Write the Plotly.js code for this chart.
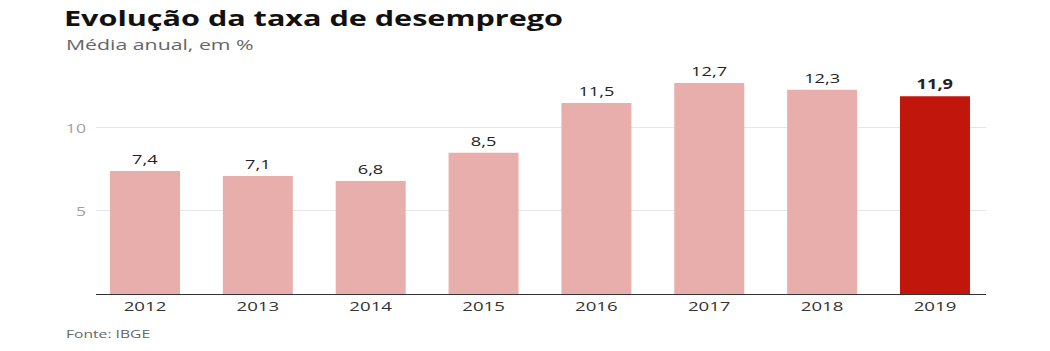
<!DOCTYPE html>
<html>
<head>
<meta charset="utf-8">
<script src="https://cdn.plot.ly/plotly-3.0.1.min.js"></script>
<style>html,body{margin:0;padding:0;background:#fff;}#chart{width:1050px;height:351px;}</style>
</head>
<body>
<div id="chart"></div>
<script>
const years = ['2012','2013','2014','2015','2016','2017','2018','2019'];
const rates = [7.4, 7.1, 6.8, 8.5, 11.5, 12.7, 12.3, 11.9];
const yTicks = [5, 10];
const highlightYear = '2019';

const lightColor = '#e8aeab';
const darkColor = '#c0160b';
const colors = years.map(y => y === highlightYear ? darkColor : lightColor);
const labels = rates.map((v, i) => {
  const s = v.toFixed(1).replace('.', ',');
  return years[i] === highlightYear ? '<b>' + s + '</b>' : s;
});

const trace = {
  type: 'bar',
  x: years,
  y: rates,
  marker: {color: colors},
  text: labels,
  textposition: 'outside',
  cliponaxis: false,
  textfont: {family: 'Open Sans', size: 13.5, color: '#222'},
  hoverinfo: 'none'
};

const layout = {
  width: 1050, height: 351,
  margin: {l: 96, r: 64, t: 61, b: 57},
  paper_bgcolor: '#fff', plot_bgcolor: '#fff',
  bargap: 0.38,
  showlegend: false,
  font: {family: 'Open Sans', color: '#333'},
  title: {
    text: '<b>Evolução da taxa de desemprego</b>',
    font: {family: 'Open Sans', size: 22, color: '#111'},
    xref: 'container', yref: 'container',
    x: 64/1050, xanchor: 'left',
    y: 1 - 18/351, yanchor: 'middle'
  },
  xaxis: {
    type: 'category',
    range: [-0.434, 7.452],
    showgrid: false,
    showline: true, linecolor: '#333', linewidth: 1,
    ticks: '',
    tickfont: {family: 'Open Sans', size: 13.5, color: '#333'},
    fixedrange: true
  },
  yaxis: {
    range: [0, 14.03],
    tickvals: yTicks,
    ticktext: yTicks.map(String),
    showgrid: true, gridcolor: '#e6e6e6', gridwidth: 1,
    zeroline: false, showline: false,
    ticks: '', ticklabelstandoff: 9,
    tickfont: {family: 'Open Sans', size: 13.5, color: '#a0a0a0'},
    fixedrange: true
  },
  annotations: [
    {
      text: 'Média anual, em %',
      xref: 'paper', yref: 'paper',
      x: (64 - 96) / 890, xanchor: 'left', align: 'left',
      y: 1 + (61 - 44) / 233, yanchor: 'middle',
      showarrow: false,
      font: {family: 'Open Sans', size: 14, color: '#666'}
    },
    {
      text: 'Fonte: IBGE',
      xref: 'paper', yref: 'paper',
      x: (64 - 96) / 890, xanchor: 'left', align: 'left',
      y: -(333 - 294) / 233, yanchor: 'middle',
      showarrow: false,
      font: {family: 'Open Sans', size: 11.5, color: '#666'}
    }
  ]
};

// The reference lettering is noticeably wider than Open Sans; widen each text horizontally around a fixed point.
function widenEl(t, s, mode) {
  const bb = t.getBBox();
  const a = mode || t.getAttribute('text-anchor') || 'start';
  const x0 = a === 'middle' ? bb.x + bb.width / 2 : (a === 'end' ? bb.x + bb.width : bb.x);
  const prev = t.getAttribute('transform') || '';
  t.setAttribute('transform', prev + ' translate(' + x0 + ',0) scale(' + s + ',1) translate(' + (-x0) + ',0)');
}
function widen(selector, s, mode) {
  document.querySelectorAll(selector).forEach(t => widenEl(t, s, mode));
}

Plotly.newPlot('chart', [trace], layout, {displayModeBar: false, staticPlot: true}).then(() => {
  widen('.gtitle', 1.39, 'start');
  const ann = document.querySelectorAll('.annotation-text');
  if (ann[0]) widenEl(ann[0], 1.52, 'start');
  if (ann[1]) widenEl(ann[1], 1.36, 'start');
  widen('.xtick text', 1.38, 'middle');
  widen('.ytick text', 1.3, 'end');
  widen('.bartext', 1.35, 'middle');
});
</script>
</body>
</html>
